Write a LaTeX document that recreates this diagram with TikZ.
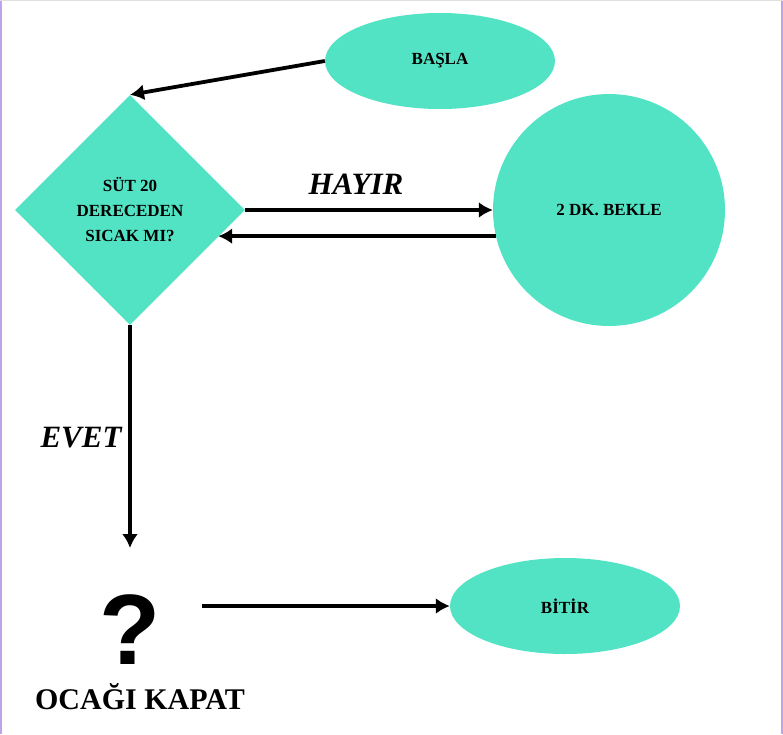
\documentclass[tikz,border=0pt]{standalone}
\usepackage{fontspec}
\setmainfont{Liberation Serif}
\newfontfamily\qfont{Liberation Sans}
\usetikzlibrary{arrows.meta,shapes.geometric}
\definecolor{turkuaz}{HTML}{52E3C4}
\definecolor{cerceve}{HTML}{BFA3EA}

\begin{document}
\begin{tikzpicture}[x=1pt, y=-1pt, >={Latex[length=14pt, width=16pt]}, font=\bfseries\fontsize{17}{25}\selectfont]
\tikzset{
  basbit/.style={ellipse, fill=turkuaz, minimum width=230pt, minimum height=96pt, inner sep=0pt},
  karar/.style ={diamond, fill=turkuaz, minimum width=230pt, minimum height=230pt, inner sep=0pt, align=center},
  bekleme/.style={circle, fill=turkuaz, minimum size=232pt, inner sep=0pt},
  etiket/.style ={font=\bfseries\itshape\fontsize{31}{36}\selectfont, inner sep=0pt},
  ok/.style     ={->, line width=3.8pt}
}
\useasboundingbox (0,0) rectangle (783,734);
\draw[cerceve, line width=1.5pt] (1,0) -- (1,734) (782,0) -- (782,734);
\draw[black!12, line width=1pt] (0,0.5) -- (783,0.5);
\node[basbit]  (basla) at (440,61)  {BAŞLA};
\node[karar]   (sicak) at (130,210) {SÜT 20\\DERECEDEN\\SICAK MI?};
\node[bekleme] (bekle) at (609,210) {2 DK. BEKLE};
\node[basbit]  (bitir) at (565,606) {BİTİR};
\node[font=\qfont\bfseries\fontsize{100}{100}\selectfont, inner sep=0pt] (soru) at (130,630) {?};
\node[font=\bfseries\fontsize{30}{36}\selectfont, inner sep=0pt] (kapat) at (140,697) {OCAĞI KAPAT};
\node[etiket] (hayir) at (356,184) {HAYIR};
\node[etiket] (evet)  at (81,438)  {EVET};
\coordinate (evetuc) at (130,548);
\coordinate (sorusag) at (202,606);
\draw[ok] (basla.west) -- (sicak.north);
\draw[ok] (sicak.east) -- (bekle.west);
\draw[ok] (bekle.193) -- (sicak.-17 |- bekle.193);
\draw[ok] (sicak.south) -- (evetuc);
\draw[ok] (sorusag) -- (bitir.west);
\end{tikzpicture}
\end{document}
